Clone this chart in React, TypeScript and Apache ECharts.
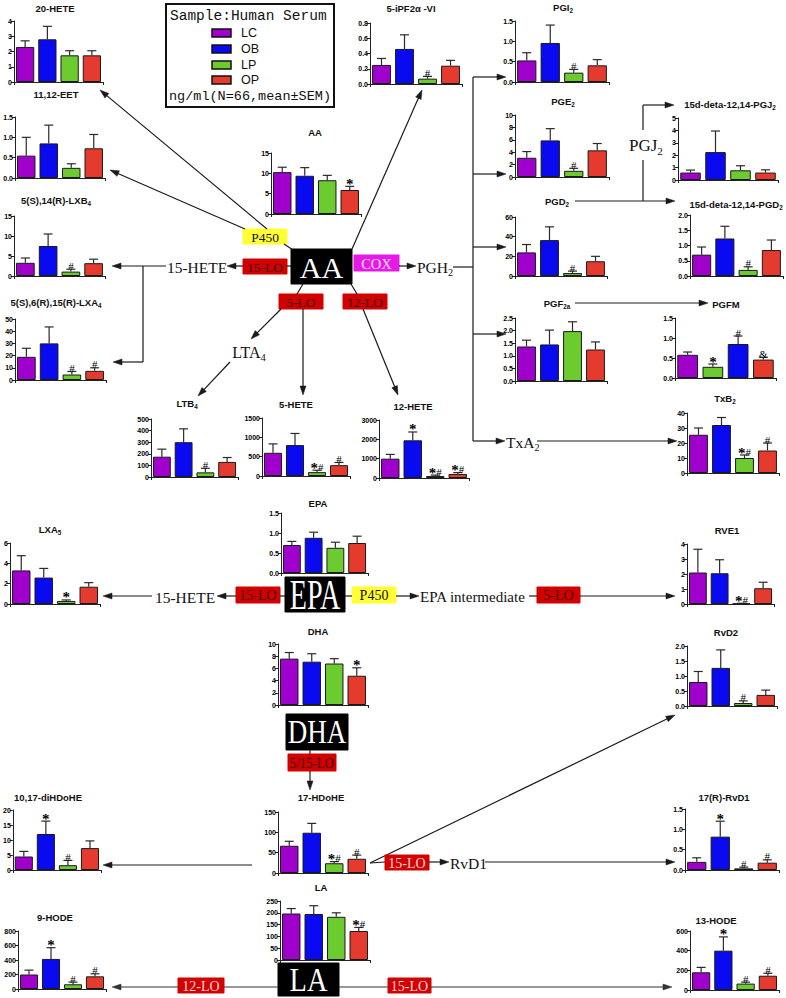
import React, { useEffect, useRef } from 'react';
import * as echarts from 'echarts';

// ---------- data ----------
const groups = ['LC', 'OB', 'LP', 'OP'];
const groupColors = ['#a000cc', '#0a0af0', '#6ccb2f', '#e53b2f'];
const pgfmCats = ['LC', 'LP', 'OB', 'OP'];
const pgfmColorIdx = [0, 2, 1, 3];

const hete20Mean = [2.3, 2.8, 1.75, 1.75];
const hete20Sem = [0.4, 0.85, 0.3, 0.3];
const eetMean = [0.55, 0.85, 0.25, 0.73];
const eetSem = [0.45, 0.45, 0.1, 0.34];
const lxb4Mean = [3.3, 7.5, 1.1, 3.2];
const lxb4Sem = [1.2, 3.0, 0.6, 1.0];
const lxb4Sig = ['', '', '#', ''];
const lxa4Mean = [19, 30, 4.5, 7.5];
const lxa4Sem = [7, 13.5, 2.5, 2.5];
const lxa4Sig = ['', '', '#', '#'];
const ipfMean = [0.25, 0.46, 0.07, 0.24];
const ipfSem = [0.085, 0.185, 0.03, 0.07];
const ipfSig = ['', '', '#', ''];
const aaMean = [10.3, 9.4, 8.3, 5.9];
const aaSem = [1.2, 2.0, 1.2, 0.9];
const aaSig = ['', '', '', '*'];
const pgi2Mean = [0.53, 0.96, 0.23, 0.41];
const pgi2Sem = [0.19, 0.44, 0.08, 0.14];
const pgi2Sig = ['', '', '#', ''];
const pge2Mean = [3.1, 5.9, 1.0, 4.3];
const pge2Sem = [1.0, 1.9, 0.4, 1.1];
const pge2Sig = ['', '', '#', ''];
const pgj2Mean = [0.6, 2.25, 0.78, 0.6];
const pgj2Sem = [0.2, 1.7, 0.37, 0.22];
const pgd2Mean = [24, 36.5, 3, 15];
const pgd2Sem = [8, 13.5, 2, 5];
const pgd2Sig = ['', '', '#', ''];
const dPgd2Mean = [0.7, 1.23, 0.2, 0.85];
const dPgd2Sem = [0.25, 0.4, 0.1, 0.33];
const dPgd2Sig = ['', '', '#', ''];
const pgf2aMean = [1.37, 1.45, 1.98, 1.25];
const pgf2aSem = [0.25, 0.57, 0.37, 0.3];
const pgfmMean = [0.58, 0.28, 0.85, 0.46];
const pgfmSem = [0.07, 0.07, 0.2, 0.06];
const pgfmSig = ['', '*', '#', '&'];
const txb2Mean = [25.5, 32, 10, 15];
const txb2Sem = [4.5, 5, 2, 5];
const txb2Sig = ['', '', '*#', '#'];
const rve1Mean = [2.1, 2.05, 0.03, 1.05];
const rve1Sem = [1.55, 0.9, 0.02, 0.4];
const rve1Sig = ['', '', '*#', ''];
const ltb4Mean = [175, 300, 40, 130];
const ltb4Sem = [65, 115, 35, 38];
const ltb4Sig = ['', '', '#', ''];
const hete5Mean = [600, 800, 100, 280];
const hete5Sem = [230, 300, 50, 70];
const hete5Sig = ['', '', '*#', '#'];
const hete12Mean = [1000, 1950, 100, 210];
const hete12Sem = [220, 430, 50, 70];
const hete12Sig = ['', '*', '*#', '*#'];
const lxa5Mean = [3.3, 2.6, 0.3, 1.7];
const lxa5Sem = [1.45, 0.9, 0.1, 0.4];
const lxa5Sig = ['', '', '*', ''];
const epaMean = [0.7, 0.88, 0.63, 0.75];
const epaSem = [0.09, 0.14, 0.14, 0.17];
const dhaMean = [7.6, 7.1, 6.8, 4.8];
const dhaSem = [1.0, 1.3, 0.8, 1.3];
const dhaSig = ['', '', '', '*'];
const rvd2Mean = [0.8, 1.27, 0.1, 0.37];
const rvd2Sem = [0.35, 0.6, 0.07, 0.16];
const rvd2Sig = ['', '', '#', ''];
const diHdoheMean = [4.5, 12, 1.6, 7.3];
const diHdoheSem = [1.7, 4.3, 1.6, 2.4];
const diHdoheSig = ['', '*', '#', ''];
const hdoheMean = [67, 99, 24, 35];
const hdoheSem = [11, 23, 4, 9];
const hdoheSig = ['', '', '*#', '#'];
const rvd1Mean = [0.2, 0.82, 0.04, 0.18];
const rvd1Sem = [0.1, 0.38, 0.03, 0.07];
const rvd1Sig = ['', '*', '#', '#'];
const laMean = [197, 195, 183, 123];
const laSem = [21, 35, 17, 15];
const laSig = ['', '', '', '*#'];
const hode9Mean = [200, 415, 65, 175];
const hode9Sem = [60, 155, 30, 35];
const hode9Sig = ['', '*', '#', '#'];
const hode13Mean = [180, 400, 65, 145];
const hode13Sem = [50, 140, 15, 25];
const hode13Sig = ['', '*', '#', '#'];

const none = ['', '', '', ''];

type Spec = {
  t: string[]; m: number[]; e: number[]; s: string[]; max: number; step: number; dec: number;
  g: number[]; tx: number; ty: number; cats?: string[]; cidx?: number[];
};

const specs: Spec[] = [
  { t: ['20-HETE'], m: hete20Mean, e: hete20Sem, s: none, max: 4, step: 1, dec: 0, g: [14, 21, 89, 61], tx: 55, ty: 8 },
  { t: ['11,12-EET'], m: eetMean, e: eetSem, s: none, max: 1.5, step: 0.5, dec: 1, g: [15, 117, 90, 61], tx: 56, ty: 94 },
  { t: ['5(S),14(R)-LXB', '4'], m: lxb4Mean, e: lxb4Sem, s: lxb4Sig, max: 15, step: 5, dec: 0, g: [14, 216, 91, 60], tx: 56, ty: 200 },
  { t: ['5(S),6(R),15(R)-LXA', '4'], m: lxa4Mean, e: lxa4Sem, s: lxa4Sig, max: 50, step: 10, dec: 0, g: [15, 319, 91, 61], tx: 56, ty: 302 },
  { t: ['5-iPF2α -VI'], m: ipfMean, e: ipfSem, s: ipfSig, max: 0.8, step: 0.2, dec: 1, g: [370, 23, 92, 61], tx: 411, ty: 8 },
  { t: ['AA'], m: aaMean, e: aaSem, s: aaSig, max: 15, step: 5, dec: 0, g: [271, 153, 90, 61], tx: 315, ty: 132 },
  { t: ['PGI', '2'], m: pgi2Mean, e: pgi2Sem, s: pgi2Sig, max: 1.5, step: 0.5, dec: 1, g: [515, 21, 94, 61], tx: 563, ty: 7 },
  { t: ['PGE', '2'], m: pge2Mean, e: pge2Sem, s: pge2Sig, max: 10, step: 2, dec: 0, g: [515, 115, 94, 62], tx: 563, ty: 101 },
  { t: ['15d-deta-12,14-PGJ', '2'], m: pgj2Mean, e: pgj2Sem, s: none, max: 5, step: 1, dec: 0, g: [678, 118, 100, 62], tx: 730, ty: 104 },
  { t: ['PGD', '2'], m: pgd2Mean, e: pgd2Sem, s: pgd2Sig, max: 60, step: 20, dec: 0, g: [515, 217, 92, 59], tx: 557, ty: 201 },
  { t: ['15d-deta-12,14-PGD', '2'], m: dPgd2Mean, e: dPgd2Sem, s: dPgd2Sig, max: 2, step: 0.5, dec: 1, g: [690, 215, 93, 61], tx: 736, ty: 204 },
  { t: ['PGF', '2a'], m: pgf2aMean, e: pgf2aSem, s: none, max: 2.5, step: 0.5, dec: 1, g: [515, 318, 92, 63], tx: 557, ty: 303 },
  { t: ['PGFM'], m: pgfmMean, e: pgfmSem, s: pgfmSig, max: 1.5, step: 0.5, dec: 1, g: [675, 318, 101, 60], tx: 726, ty: 304, cats: pgfmCats, cidx: pgfmColorIdx },
  { t: ['TxB', '2'], m: txb2Mean, e: txb2Sem, s: txb2Sig, max: 40, step: 10, dec: 0, g: [687, 413, 92, 60], tx: 725, ty: 398 },
  { t: ['RVE1'], m: rve1Mean, e: rve1Sem, s: rve1Sig, max: 4, step: 1, dec: 0, g: [687, 544, 87, 60], tx: 727, ty: 530 },
  { t: ['LTB', '4'], m: ltb4Mean, e: ltb4Sem, s: ltb4Sig, max: 500, step: 100, dec: 0, g: [151, 419, 87, 58], tx: 187, ty: 403 },
  { t: ['5-HETE'], m: hete5Mean, e: hete5Sem, s: hete5Sig, max: 1500, step: 500, dec: 0, g: [262, 418, 88, 58], tx: 296, ty: 404 },
  { t: ['12-HETE'], m: hete12Mean, e: hete12Sem, s: hete12Sig, max: 3000, step: 1000, dec: 0, g: [379, 420, 90, 58], tx: 413, ty: 406 },
  { t: ['LXA', '5'], m: lxa5Mean, e: lxa5Sem, s: lxa5Sig, max: 6, step: 2, dec: 0, g: [10, 543, 90, 61], tx: 50, ty: 529 },
  { t: ['EPA'], m: epaMean, e: epaSem, s: none, max: 1.5, step: 0.5, dec: 1, g: [281, 513, 87, 60], tx: 318, ty: 503 },
  { t: ['DHA'], m: dhaMean, e: dhaSem, s: dhaSig, max: 10, step: 2, dec: 0, g: [278, 644, 90, 61], tx: 318, ty: 631 },
  { t: ['RvD2'], m: rvd2Mean, e: rvd2Sem, s: rvd2Sig, max: 2, step: 0.5, dec: 1, g: [687, 646, 90, 60], tx: 726, ty: 632 },
  { t: ['10,17-diHDoHE'], m: diHdoheMean, e: diHdoheSem, s: diHdoheSig, max: 20, step: 5, dec: 0, g: [10, 810, 91, 60], tx: 48, ty: 797 },
  { t: ['17-HDoHE'], m: hdoheMean, e: hdoheSem, s: hdoheSig, max: 150, step: 50, dec: 0, g: [278, 812, 90, 61], tx: 321, ty: 797 },
  { t: ['17(R)-RvD1'], m: rvd1Mean, e: rvd1Sem, s: rvd1Sig, max: 1.5, step: 0.5, dec: 1, g: [685, 809, 94, 61], tx: 724, ty: 797 },
  { t: ['LA'], m: laMean, e: laSem, s: laSig, max: 250, step: 50, dec: 0, g: [280, 901, 90, 59], tx: 321, ty: 887 },
  { t: ['9-HODE'], m: hode9Mean, e: hode9Sem, s: hode9Sig, max: 800, step: 200, dec: 0, g: [18, 931, 88, 58], tx: 55, ty: 917 },
  { t: ['13-HODE'], m: hode13Mean, e: hode13Sem, s: hode13Sig, max: 600, step: 200, dec: 0, g: [690, 931, 89, 59], tx: 716, ty: 920 },
];

// ---------- drawing helpers ----------
const SANS = 'Liberation Sans';
const SERIF = 'Liberation Serif';
const MONO = 'Liberation Mono';
const INK = '#1a1a1a';

function subText(x: number, y: number, parts: string[], opt: any) {
  const fs = opt.fontSize;
  const lh = Math.round(fs * 1.3);
  const text = parts.length > 1 ? `${parts[0]}{s|${parts[1]}}${parts[2] || ''}` : parts[0];
  return {
    type: 'text', x, y, silent: true, scaleX: opt.scaleX || 1,
    style: {
      text, x: 0, y: 0, fill: opt.fill || '#111', fontSize: fs, fontFamily: opt.fontFamily,
      fontWeight: opt.fontWeight || 'normal', lineHeight: lh,
      align: opt.align || 'center', textAlign: opt.align || 'center',
      verticalAlign: 'middle', textVerticalAlign: 'middle',
      rich: {
        s: { fontSize: fs * 0.66, fontFamily: opt.fontFamily, fontWeight: opt.fontWeight || 'normal', fill: opt.fill || '#111', lineHeight: Math.round(fs * 0.75), verticalAlign: 'bottom' },
      },
    },
  };
}

function line(x1: number, y1: number, x2: number, y2: number, w = 1.2, c = INK) {
  return { type: 'line', silent: true, shape: { x1, y1, x2, y2 }, style: { stroke: c, lineWidth: w } };
}

function arrow(x1: number, y1: number, x2: number, y2: number, c = INK) {
  const dx = x2 - x1, dy = y2 - y1;
  const len = Math.hypot(dx, dy);
  const ux = dx / len, uy = dy / len;
  const hl = 9, hw = 3;
  const bx = x2 - ux * hl, by = y2 - uy * hl;
  return [
    line(x1, y1, bx + ux * 1, by + uy * 1, 1.2, c),
    {
      type: 'polygon', silent: true,
      shape: { points: [[x2, y2], [bx - uy * hw, by + ux * hw], [bx + uy * hw, by - ux * hw]] },
      style: { fill: c, stroke: c, lineWidth: 0.5 },
    },
  ];
}

function box(x: number, y: number, w: number, h: number, fill: string, label: string, color: string, fs: number, scaleX = 1, stroke?: string) {
  return [
    { type: 'rect', silent: true, shape: { x, y, width: w, height: h }, style: { fill, stroke: stroke || fill, lineWidth: 1 } },
    {
      type: 'text', silent: true, x: x + w / 2, y: y + h / 2 + 0.5, scaleX,
      style: { text: label, x: 0, y: 0, fill: color, fontSize: fs, fontFamily: SERIF, align: 'center', textAlign: 'center', verticalAlign: 'middle', textVerticalAlign: 'middle' },
    },
  ];
}

const RED = '#d30000';
const RED_DARK_TXT = '#3c0000';
const RED_LIGHT_TXT = '#ffd8d8';

function buildGraphics() {
  const els: any[] = [];
  // legend box
  els.push({ type: 'rect', silent: true, shape: { x: 166, y: 4, width: 168, height: 103 }, style: { fill: 'none', stroke: '#111', lineWidth: 2 } });
  els.push({ type: 'text', silent: true, style: { text: 'Sample:Human Serum', x: 170, y: 16, fontSize: 14.5, fontFamily: MONO, fill: '#111', align: 'left', textAlign: 'left', verticalAlign: 'middle', textVerticalAlign: 'middle' } });
  const legY = [33, 49, 65, 80];
  groups.forEach((gname, i) => {
    els.push({ type: 'rect', silent: true, shape: { x: 212, y: legY[i] - 4, width: 19, height: 8 }, style: { fill: groupColors[i], stroke: '#111', lineWidth: 1.5 } });
    els.push({ type: 'text', silent: true, style: { text: gname, x: 241, y: legY[i], fontSize: 12.5, fontFamily: SANS, fill: '#111', align: 'left', textAlign: 'left', verticalAlign: 'middle', textVerticalAlign: 'middle' } });
  });
  els.push({ type: 'text', silent: true, style: { text: 'ng/ml(N=66,mean±SEM)', x: 169, y: 96, fontSize: 13.5, fontFamily: MONO, fill: '#111', align: 'left', textAlign: 'left', verticalAlign: 'middle', textVerticalAlign: 'middle' } });

  // chart titles
  specs.forEach((s) => {
    els.push(subText(s.tx, s.ty, s.t, { fontSize: 9.5, fontFamily: SANS, fontWeight: 'bold' }));
  });

  // ---- AA pathway ----
  els.push(...box(291, 249, 61, 35, '#000', 'AA', '#fff', 30));
  els.push(...box(243, 229, 44, 15, '#ffff33', 'P450', '#111', 13.5));
  els.push(...box(243, 259, 44, 15, RED, '15-LO', RED_DARK_TXT, 13.5));
  els.push(...box(354, 255, 45, 16, '#e619e6', 'COX', '#ffe0ff', 14.5));
  els.push(...box(279, 294, 44, 15, RED, '5-LO', RED_DARK_TXT, 13.5));
  els.push(...box(343, 294, 44, 15, RED, '12-LO', RED_DARK_TXT, 13.5));
  els.push(...arrow(267, 229, 100, 90));
  els.push(...arrow(245, 229, 110, 170));
  els.push(line(284, 244, 293, 250));
  els.push(...arrow(352, 249, 422, 90));
  els.push(line(287, 266, 291, 266));
  els.push(...arrow(243, 266, 227, 266));
  els.push(subText(197, 267, ['15-HETE'], { fontSize: 15.5, fontFamily: SERIF }));
  els.push(...arrow(166, 266, 112, 266));
  els.push(line(143, 266, 143, 362));
  els.push(...arrow(143, 362, 113, 362));
  els.push(...arrow(399, 266, 416, 266));
  els.push(subText(417, 267, ['PGH', '2'], { fontSize: 15.5, fontFamily: SERIF, align: 'left' }));
  els.push(line(303, 284, 297, 294));
  els.push(line(351, 284, 357, 294));
  els.push(...arrow(281, 309, 251, 339));
  els.push(subText(249, 352, ['LTA', '4'], { fontSize: 16, fontFamily: SERIF }));
  els.push(...arrow(230, 362, 198, 396));
  els.push(...arrow(303, 309, 303, 395));
  els.push(...arrow(363, 309, 398, 395));
  // COX branch bracket
  els.push(line(453, 267, 473, 267));
  els.push(line(473, 77, 473, 441));
  [77, 174, 247, 334].forEach((y) => els.push(...arrow(473, y, 506, y)));
  els.push(...arrow(473, 441, 505, 441));
  els.push(subText(506, 442, ['TxA', '2'], { fontSize: 15.5, fontFamily: SERIF, align: 'left' }));
  els.push(...arrow(537, 441, 677, 441));
  els.push(...arrow(575, 201, 675, 201));
  els.push(...arrow(575, 303, 708, 303));
  els.push(line(643, 105, 643, 130));
  els.push(line(643, 160, 643, 201));
  els.push(...arrow(643, 105, 674, 105));
  els.push(subText(646, 145, ['PGJ', '2'], { fontSize: 17, fontFamily: SERIF }));

  // ---- EPA pathway ----
  els.push(...box(285, 577, 60, 35, '#000', 'EPA', '#fff', 42, 0.67));
  els.push(...box(236, 587, 44, 16, RED, '15-LO', RED_DARK_TXT, 14));
  els.push(...box(352, 587, 44, 16, '#ffff33', 'P450', '#111', 14));
  els.push(...box(537, 587, 43, 16, RED, '5-LO', RED_DARK_TXT, 14));
  els.push(line(280, 596, 285, 596));
  els.push(line(345, 596, 352, 596));
  els.push(...arrow(236, 596, 217, 596));
  els.push(subText(185, 597, ['15-HETE'], { fontSize: 15.5, fontFamily: SERIF }));
  els.push(...arrow(152, 596, 103, 596));
  els.push(...arrow(396, 596, 419, 596));
  els.push(subText(420, 597, ['EPA intermediate'], { fontSize: 15, fontFamily: SERIF, align: 'left' }));
  els.push(line(529, 596, 537, 596));
  els.push(...arrow(580, 596, 675, 596));

  // ---- DHA pathway ----
  els.push(...box(286, 714, 62, 36, '#000', 'DHA', '#fff', 33, 0.82));
  els.push(line(310, 750, 310, 754));
  els.push(...box(288, 754, 48, 17, RED, '5/15-LO', RED_DARK_TXT, 14, 0.92));
  els.push(...arrow(310, 771, 310, 790));
  els.push(...arrow(252, 865, 103, 865));
  els.push(line(370, 863, 385, 862));
  els.push(...arrow(370, 863, 675, 715));
  els.push(...box(385, 855, 44, 15, RED, '15-LO', RED_LIGHT_TXT, 14));
  els.push(...arrow(429, 862, 449, 862));
  els.push(subText(450, 863, ['RvD1'], { fontSize: 15.5, fontFamily: SERIF, align: 'left' }));
  els.push(...arrow(485, 862, 675, 862));

  // ---- LA pathway ----
  els.push(...box(278, 963, 61, 33, '#000', 'LA', '#fff', 33, 0.86));
  els.push(line(278, 987, 224, 987, 1.2, '#333'));
  els.push(...box(178, 978, 46, 15, RED, '12-LO', RED_LIGHT_TXT, 14));
  els.push(...arrow(178, 987, 112, 987, '#333'));
  els.push(line(339, 987, 388, 987, 1.2, '#333'));
  els.push(...box(388, 978, 43, 15, RED, '15-LO', RED_LIGHT_TXT, 14));
  els.push(...arrow(431, 987, 672, 987, '#333'));
  return els;
}

function sigRich(lab: string) {
  return lab.split('').map((c) => (c === '*' ? '{a|*}' : `{b|${c}}`)).join('');
}

function buildOption() {
  const grid: any[] = [];
  const xAxis: any[] = [];
  const yAxis: any[] = [];
  const series: any[] = [];
  specs.forEach((s, i) => {
    const [l, t, w, h] = s.g;
    grid.push({ left: l, top: t, width: w, height: h, containLabel: false });
    xAxis.push({
      type: 'category', gridIndex: i, data: s.cats || groups,
      axisLine: { show: true, lineStyle: { color: '#222', width: 1 } },
      axisTick: { show: true, length: 3, interval: (idx: number) => idx === 2, lineStyle: { color: '#222' } },
      axisLabel: { show: false }, splitLine: { show: false },
    });
    yAxis.push({
      type: 'value', gridIndex: i, min: 0, max: s.max, interval: s.step,
      axisLine: { show: true, lineStyle: { color: '#222', width: 1 } },
      axisTick: { show: true, length: 3, lineStyle: { color: '#222' } },
      axisLabel: { fontSize: 7, fontWeight: 'bold', fontFamily: SANS, color: '#000', margin: 2, formatter: (v: number) => v.toFixed(s.dec) },
      splitLine: { show: false },
    });
    const cidx = s.cidx || [0, 1, 2, 3];
    series.push({
      type: 'bar', xAxisIndex: i, yAxisIndex: i, barWidth: '82%', silent: true,
      data: s.m.map((v, j) => ({ value: v, itemStyle: { color: groupColors[cidx[j]] } })),
      itemStyle: { borderColor: '#1a1a1a', borderWidth: 1 },
    });
    const sig = s.s;
    series.push({
      type: 'custom', xAxisIndex: i, yAxisIndex: i, silent: true, z: 3,
      itemStyle: { color: '#000' },
      data: s.m.map((v, j) => [j, v, v + s.e[j]]),
      renderItem: (params: any, api: any) => {
        const j = api.value(0);
        const base = api.coord([j, api.value(1)]);
        const top = api.coord([j, api.value(2)]);
        const cap = 4.5;
        const children: any[] = [
          { type: 'line', shape: { x1: base[0], y1: base[1], x2: top[0], y2: top[1] }, style: { stroke: '#2a2a2a', lineWidth: 1.2 } },
          { type: 'line', shape: { x1: top[0] - cap, y1: top[1], x2: top[0] + cap, y2: top[1] }, style: { stroke: '#2a2a2a', lineWidth: 1.2 } },
        ];
        const lab = sig[params.dataIndex];
        if (lab) {
          children.push({
            type: 'text', x: top[0], y: top[1] + 2,
            style: {
              text: sigRich(lab), fill: '#000', textFill: '#000', fontSize: 11, fontFamily: SERIF,
              align: 'center', textAlign: 'center', verticalAlign: 'bottom', textVerticalAlign: 'bottom',
              rich: {
                a: { fontSize: 15, fontWeight: 'bold', fontFamily: SERIF, fill: '#000', lineHeight: 12, verticalAlign: 'bottom', padding: [0, 0, -3, 0] },
                b: { fontSize: 11, fontFamily: SERIF, fill: '#000', lineHeight: 11, verticalAlign: 'bottom' },
              },
            },
          });
        }
        return { type: 'group', children };
      },
    });
  });
  return {
    animation: false,
    backgroundColor: '#ffffff',
    grid, xAxis, yAxis, series,
    graphic: { elements: buildGraphics() },
  };
}

export default function App() {
  const ref = useRef<HTMLDivElement>(null);
  useEffect(() => {
    if (!ref.current) return;
    const chart = echarts.init(ref.current, undefined, { renderer: 'svg' });
    chart.setOption(buildOption() as any);
    return () => chart.dispose();
  }, []);
  return (
    <div
      ref={ref}
      style={{ position: 'fixed', left: 0, top: 0, width: 786, height: 998, background: '#fff', overflow: 'hidden' }}
    />
  );
}
